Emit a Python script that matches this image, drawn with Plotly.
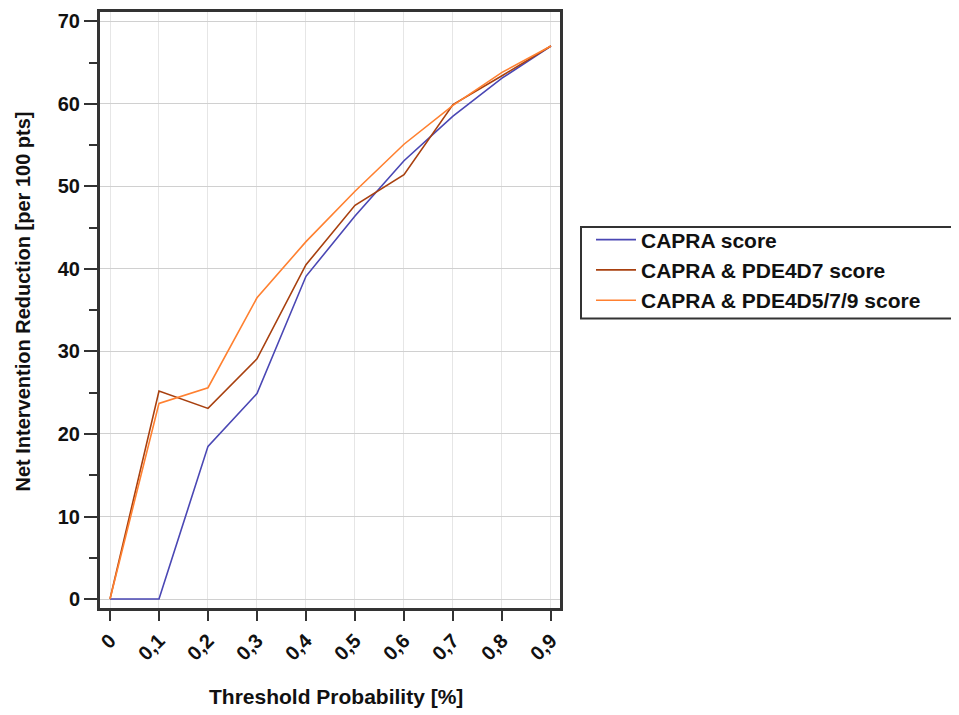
import plotly.graph_objects as go

thresholds = [0, 0.1, 0.2, 0.3, 0.4, 0.5, 0.6, 0.7, 0.8, 0.9]
x_tick_labels = ["0", "0,1", "0,2", "0,3", "0,4", "0,5", "0,6", "0,7", "0,8", "0,9"]
y_tick_values = [0, 10, 20, 30, 40, 50, 60, 70]
capra = [0, 0, 18.5, 24.9, 39.1, 46.4, 53.1, 58.5, 63.1, 67.0]
capra_pde4d7 = [0, 25.2, 23.1, 29.1, 40.5, 47.7, 51.4, 59.9, 63.4, 67.0]
capra_pde4d579 = [0, 23.7, 25.6, 36.5, 43.3, 49.4, 55.1, 59.8, 63.8, 67.0]
series_names = ["CAPRA score", "CAPRA & PDE4D7 score", "CAPRA & PDE4D5/7/9 score"]
colors = ["#4A47B4", "#A8400F", "#FF8030"]

FONT = "Arial, Liberation Sans, sans-serif"
BOLD = dict(family=FONT, color="#111", weight="bold")

# page has an 8px body margin; figure is sized so the page matches 959x715
W, H = 951, 707
L, R, T, B = 92, 399, 1, 107
PW, PH = W - L - R, H - T - B


def px(xf):
    return (xf - L) / PW


def py(yf):
    return (H - B - yf) / PH


fig = go.Figure()
for name, ys, c in zip(series_names, [capra, capra_pde4d7, capra_pde4d579], colors):
    fig.add_trace(go.Scatter(x=thresholds, y=ys, mode="lines", name=name,
                             line=dict(color=c, width=1.6)))

fig.update_layout(
    width=W, height=H,
    margin=dict(l=L, r=R, t=T, b=B, pad=0),
    paper_bgcolor="white", plot_bgcolor="white",
    font=dict(family=FONT, color="#111"),
    showlegend=True,
    legend=dict(x=px(583), y=py(209.5), xanchor="left", yanchor="top",
                bgcolor="rgba(0,0,0,0)", borderwidth=0,
                font=dict(size=21, **BOLD),
                tracegroupgap=0, itemwidth=40),
    shapes=[dict(type="rect", xref="paper", yref="paper",
                 x0=px(573), x1=px(949), y0=py(309), y1=py(217),
                 line=dict(color="#333", width=2), fillcolor="rgba(0,0,0,0)")],
    annotations=[
        dict(text="Threshold Probability [%]", xref="paper", yref="paper",
             x=px(328), y=py(689), xanchor="center", yanchor="middle",
             showarrow=False, font=dict(size=21, **BOLD)),
        dict(text="Net Intervention Reduction [per 100 pts]", xref="paper", yref="paper",
             x=px(15), y=py(292), xanchor="center", yanchor="middle", textangle=-90,
             showarrow=False, font=dict(size=20, **BOLD)),
    ],
)

fig.update_xaxes(
    range=[-0.0204, 0.9184],
    tickvals=thresholds, ticktext=x_tick_labels, tickangle=-45,
    tickfont=dict(size=20, **BOLD),
    ticks="outside", ticklen=10, tickwidth=2, tickcolor="#333",
    showgrid=True, gridcolor="#E6E6E6", gridwidth=1,
    showline=True, linecolor="#333", linewidth=3, mirror=True,
    zeroline=False,
)
fig.update_yaxes(
    range=[-1.084, 71.12],
    tickvals=y_tick_values,
    tickfont=dict(size=20, **BOLD),
    ticks="outside", ticklen=13, tickwidth=2, tickcolor="#333",
    minor=dict(tickvals=[5, 15, 25, 35, 45, 55, 65], ticks="outside", ticklen=8,
               tickwidth=2, tickcolor="#333", showgrid=False),
    showgrid=True, gridcolor="#D0D0D0", gridwidth=1,
    showline=True, linecolor="#333", linewidth=3, mirror=True,
    zeroline=False,
)

fig.write_html("out.html")
